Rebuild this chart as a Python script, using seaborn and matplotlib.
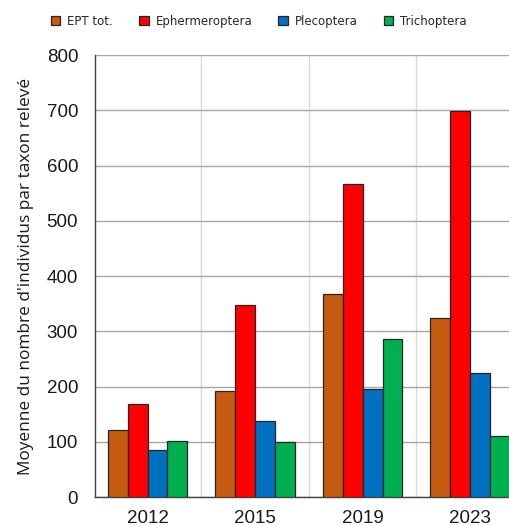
import seaborn as sns
import pandas as pd
import matplotlib.pyplot as plt
from matplotlib.ticker import FixedLocator

# -------------------------------------------------
# Data
# -------------------------------------------------
years = ["2012", "2015", "2019", "2023"]
series = ["EPT tot.", "Ephermeroptera", "Plecoptera", "Trichoptera"]
ept_tot = [121, 192, 367, 325]
ephermeroptera = [168, 347, 567, 699]
plecoptera = [86, 138, 195, 224]
trichoptera = [102, 99, 286, 110]

colors = ["#C55A11", "#FF0000", "#0070C0", "#00B050"]

rows = []
for name, vals in zip(series, [ept_tot, ephermeroptera, plecoptera, trichoptera]):
    for yr, v in zip(years, vals):
        rows.append({"year": yr, "taxon": name, "value": v})
df = pd.DataFrame(rows)

# -------------------------------------------------
# Plot
# -------------------------------------------------
sns.set_style("white")
plt.rcParams["font.family"] = ["Liberation Sans", "DejaVu Sans"]

fig = plt.figure(figsize=(5.1, 5.26), dpi=100)
ax = fig.add_axes([0.186, 0.055, 0.814, 0.840])

sns.barplot(
    data=df,
    x="year",
    y="value",
    hue="taxon",
    hue_order=series,
    palette=colors,
    width=0.74,
    edgecolor="#262626",
    linewidth=0.9,
    saturation=1,
    ax=ax,
    zorder=3,
)

ax.set_ylim(0, 800)
ax.set_xlim(-0.49, 3.37)
ax.set_yticks(range(0, 801, 100))
ax.yaxis.grid(True, color="#A6A6A6", linewidth=1.0, zorder=0)
ax.xaxis.set_minor_locator(FixedLocator([0.5, 1.5, 2.5]))
ax.xaxis.grid(True, which="minor", color="#D9D9D9", linewidth=1.0, zorder=0)
ax.tick_params(axis="x", which="major", length=0, labelsize=13.5, pad=9,
               labelcolor="#1a1a1a")
ax.tick_params(axis="x", which="minor", length=4, direction="in", color="#404040")
ax.tick_params(axis="y", length=0, labelsize=13.5, pad=12, labelcolor="#1a1a1a")

for s in ["top", "right"]:
    ax.spines[s].set_visible(False)
for s in ["left", "bottom"]:
    ax.spines[s].set_color("#404040")
    ax.spines[s].set_linewidth(1.0)

ax.set_xlabel("")
ax.set_ylabel("Moyenne du nombre d'individus par taxon relevé",
              fontsize=12.4, family="Open Sans", labelpad=9, color="#1a1a1a")

sns.move_legend(
    ax,
    "upper center",
    bbox_to_anchor=(0.395, 1.115),
    ncol=4,
    frameon=False,
    title=None,
    handlelength=0.8,
    handleheight=0.8,
    handletextpad=0.6,
    columnspacing=2.2,
    prop={"family": "DejaVu Sans", "size": 8.5},
)

fig.savefig("out.png", dpi=100)
